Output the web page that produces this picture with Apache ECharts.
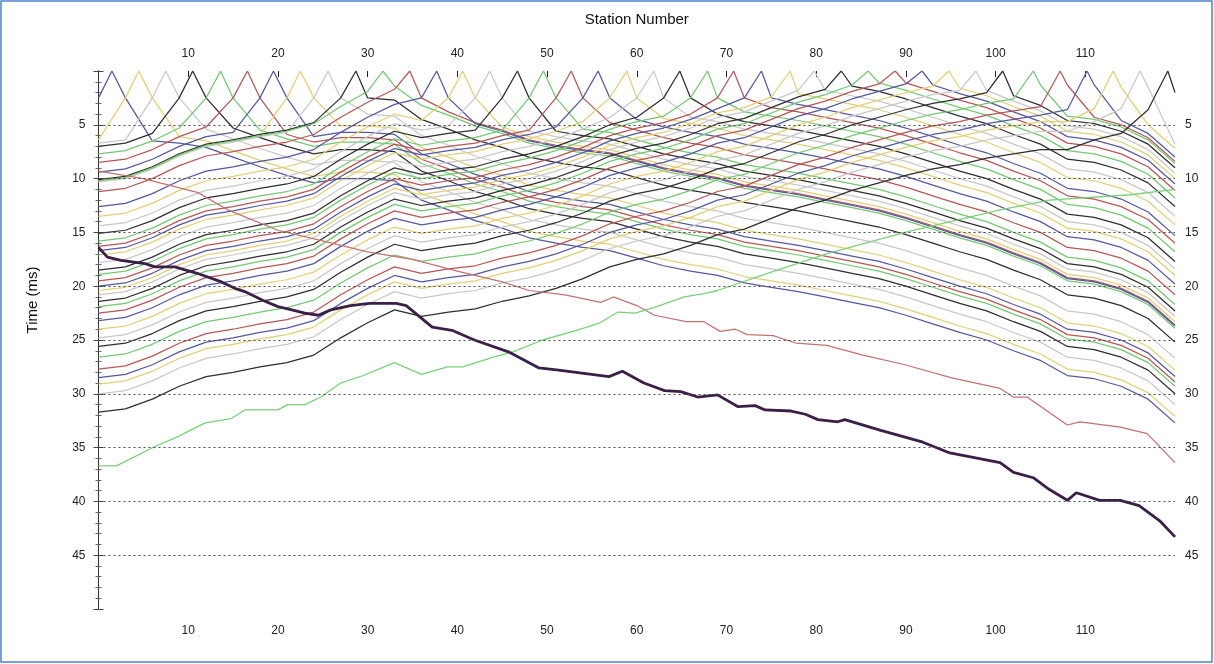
<!DOCTYPE html>
<html><head><meta charset="utf-8">
<script src="https://cdn.jsdelivr.net/npm/echarts/dist/echarts.min.js"></script>
<style>html,body{margin:0;padding:0;background:#fff}#c{width:1214px;height:664px}</style>
</head><body><div id="c"></div>
<script>
// receiver stations (x grid shared by all shot curves)
const stations = [0,3,6,9,12,15,18,21,24,27,30,33,36,39,42,45,48,51,54,57,60,63,66,69,72,75,78,81,84,87,90,93,96,99,102,105,108,111,114,117,120];
// shot positions (time 0 at shot)
const shotStations = [1.5,4.5,7.5,10.5,13.6,16.6,19.5,22.5,25.6,28.7,31.7,34.7,37.7,40.6,43.6,46.7,49.6,52.7,55.7,58.9,61.9,64.8,67.9,70.8,73.9,77.1,79.8,82.8,85.8,88.8,91.8,94.8,97.8,100.8,104.2,107.2,110.2,113.1,116.1,119.2];
const shotColors = ['#55589e','#e3cf78','#c8c8c8','#2e2e2e','#74c874','#b65656'];
// first-break times (ms) per shot, read at each station above
const t00 = [2.5,2.5,6.5,6.7,7.1,8.0,8.9,9.7,10.4,10.0,10.0,10.2,12.0,12.9,13.9,14.6,15.5,16.0,16.4,16.7,17.4,18.1,18.6,19.0,19.7,20.1,20.5,21.0,21.5,22.0,22.7,23.5,24.3,25.0,26.0,26.9,28.3,28.6,29.3,30.5,32.7];
const t01 = [6.4,2.5,2.5,6.1,6.5,7.4,8.3,9.1,9.8,9.4,9.4,9.6,11.4,12.3,13.3,14.0,14.9,15.4,15.8,16.1,16.8,17.5,18.0,18.4,19.1,19.5,19.9,20.4,20.9,21.4,22.1,22.9,23.7,24.4,25.4,26.3,27.7,28.0,28.7,29.9,32.1];
const t02 = [6.7,6.4,2.5,2.5,5.4,6.3,7.2,8.0,8.7,8.3,8.3,8.5,10.3,11.2,12.2,12.9,13.8,14.3,14.7,15.0,15.7,16.4,16.9,17.3,18.0,18.4,18.8,19.3,19.8,20.3,21.0,21.8,22.6,23.3,24.3,25.2,26.6,26.9,27.6,28.8,31.0];
const t03 = [7.0,6.7,5.8,2.5,2.5,5.3,6.2,7.0,7.7,7.3,7.3,7.5,9.3,10.2,11.2,11.9,12.8,13.3,13.7,14.0,14.7,15.4,15.9,16.3,17.0,17.4,17.8,18.3,18.8,19.3,20.0,20.8,21.6,22.3,23.3,24.2,25.6,25.9,26.6,27.8,30.0];
const t04 = [7.7,7.4,6.5,5.3,2.5,2.5,5.5,6.3,7.0,6.6,6.6,6.8,8.6,9.5,10.5,11.2,12.1,12.6,13.0,13.3,14.0,14.7,15.2,15.6,16.3,16.7,17.1,17.6,18.1,18.6,19.3,20.1,20.9,21.6,22.6,23.5,24.9,25.2,25.9,27.1,29.3];
const t05 = [8.5,8.2,7.3,6.1,5.2,2.5,2.5,5.9,6.6,6.2,6.2,6.4,8.2,9.1,10.1,10.8,11.7,12.2,12.6,12.9,13.6,14.3,14.8,15.2,15.9,16.3,16.7,17.2,17.7,18.2,18.9,19.7,20.5,21.2,22.2,23.1,24.5,24.8,25.5,26.7,28.9];
const t06 = [9.4,9.1,8.2,7.0,6.1,5.7,2.5,2.5,6.1,5.7,5.7,5.9,7.7,8.6,9.6,10.3,11.2,11.7,12.1,12.4,13.1,13.8,14.3,14.7,15.4,15.8,16.2,16.7,17.2,17.7,18.4,19.2,20.0,20.7,21.7,22.6,24.0,24.3,25.0,26.2,28.4];
const t07 = [10.2,9.9,9.0,7.8,6.9,6.5,6.0,2.5,2.5,5.1,5.1,5.3,7.1,8.0,9.0,9.7,10.6,11.1,11.5,11.8,12.5,13.2,13.7,14.1,14.8,15.2,15.6,16.1,16.6,17.1,17.8,18.6,19.4,20.1,21.1,22.0,23.4,23.7,24.4,25.6,27.8];
const t08 = [10.3,10.0,9.1,7.9,7.0,6.6,6.1,5.7,2.5,2.5,4.0,4.2,6.0,6.9,7.9,8.6,9.5,10.0,10.4,10.7,11.4,12.1,12.6,13.0,13.7,14.1,14.5,15.0,15.5,16.0,16.7,17.5,18.3,19.0,20.0,20.9,22.3,22.6,23.3,24.5,26.7];
const t09 = [10.1,9.8,8.9,7.7,6.8,6.4,5.9,5.5,4.8,2.5,2.5,2.7,4.5,5.4,6.4,7.1,8.0,8.5,8.9,9.2,9.9,10.6,11.1,11.5,12.2,12.6,13.0,13.5,14.0,14.5,15.2,16.0,16.8,17.5,18.5,19.4,20.8,21.1,21.8,23.0,25.2];
const t10 = [10.2,9.9,9.0,7.8,6.9,6.5,6.0,5.6,4.9,3.3,1.9,1.4,3.2,4.1,5.1,5.8,6.7,7.2,7.6,7.9,8.6,9.3,9.8,10.2,10.9,11.3,11.7,12.2,12.7,13.2,13.9,14.7,15.5,16.2,17.2,18.1,19.5,19.8,20.5,21.7,23.9];
const t11 = [11.2,10.9,10.0,8.8,7.9,7.5,7.0,6.6,5.9,4.3,2.9,1.7,2.5,3.8,4.8,5.5,6.4,6.9,7.3,7.6,8.3,9.0,9.5,9.9,10.6,11.0,11.4,11.9,12.4,12.9,13.6,14.4,15.2,15.9,16.9,17.8,19.2,19.5,20.2,21.4,23.6];
const t12 = [12.6,12.3,11.4,10.2,9.3,8.9,8.4,8.0,7.3,5.7,4.3,3.1,2.5,2.5,4.9,5.6,6.5,7.0,7.4,7.7,8.4,9.1,9.6,10.0,10.7,11.1,11.5,12.0,12.5,13.0,13.7,14.5,15.3,16.0,17.0,17.9,19.3,19.6,20.3,21.5,23.7];
const t13 = [13.5,13.2,12.3,11.1,10.2,9.8,9.3,8.9,8.2,6.6,5.2,4.0,4.6,2.5,2.5,5.2,6.1,6.6,7.0,7.3,8.0,8.7,9.2,9.6,10.3,10.7,11.1,11.6,12.1,12.6,13.3,14.1,14.9,15.6,16.6,17.5,18.9,19.2,19.9,21.1,23.3];
const t14 = [14.4,14.1,13.2,12.0,11.1,10.7,10.2,9.8,9.1,7.5,6.1,4.9,5.5,5.1,2.5,2.5,5.6,6.1,6.5,6.8,7.5,8.2,8.7,9.1,9.8,10.2,10.6,11.1,11.6,12.1,12.8,13.6,14.4,15.1,16.1,17.0,18.4,18.7,19.4,20.6,22.8];
const t15 = [15.1,14.8,13.9,12.7,11.8,11.4,10.9,10.5,9.8,8.2,6.8,5.6,6.2,5.8,5.5,2.5,2.5,5.6,6.0,6.3,7.0,7.7,8.2,8.6,9.3,9.7,10.1,10.6,11.1,11.6,12.3,13.1,13.9,14.6,15.6,16.5,17.9,18.2,18.9,20.1,22.3];
const t16 = [15.8,15.5,14.6,13.4,12.5,12.1,11.6,11.2,10.5,8.9,7.5,6.3,6.9,6.5,6.2,5.5,2.5,2.5,5.4,5.7,6.4,7.1,7.6,8.0,8.7,9.1,9.5,10.0,10.5,11.0,11.7,12.5,13.3,14.0,15.0,15.9,17.3,17.6,18.3,19.5,21.7];
const t17 = [16.3,16.0,15.1,13.9,13.0,12.6,12.1,11.7,11.0,9.4,8.0,6.8,7.4,7.0,6.7,6.0,5.5,2.5,2.5,4.8,5.5,6.2,6.7,7.1,7.8,8.2,8.6,9.1,9.6,10.1,10.8,11.6,12.4,13.1,14.1,15.0,16.4,16.7,17.4,18.6,20.8];
const t18 = [16.7,16.4,15.5,14.3,13.4,13.0,12.5,12.1,11.4,9.8,8.4,7.2,7.8,7.4,7.1,6.4,5.9,5.2,2.5,2.5,4.5,5.2,5.7,6.1,6.8,7.2,7.6,8.1,8.6,9.1,9.8,10.6,11.4,12.1,13.1,14.0,15.4,15.7,16.4,17.6,19.8];
const t19 = [17.1,16.8,15.9,14.7,13.8,13.4,12.9,12.5,11.8,10.2,8.8,7.6,8.2,7.8,7.5,6.8,6.3,5.6,4.7,2.5,2.5,4.4,4.9,5.3,6.0,6.4,6.8,7.3,7.8,8.3,9.0,9.8,10.6,11.3,12.3,13.2,14.6,14.9,15.6,16.8,19.0];
const t20 = [17.8,17.5,16.6,15.4,14.5,14.1,13.6,13.2,12.5,10.9,9.5,8.3,8.9,8.5,8.2,7.5,7.0,6.3,5.4,4.3,2.5,2.5,4.3,4.7,5.4,5.8,6.2,6.7,7.2,7.7,8.4,9.2,10.0,10.7,11.7,12.6,14.0,14.3,15.0,16.2,18.4];
const t21 = [18.5,18.2,17.3,16.1,15.2,14.8,14.3,13.9,13.2,11.6,10.2,9.0,9.6,9.2,8.9,8.2,7.7,7.0,6.1,5.0,4.3,2.5,2.5,4.0,4.7,5.1,5.5,6.0,6.5,7.0,7.7,8.5,9.3,10.0,11.0,11.9,13.3,13.6,14.3,15.5,17.7];
const t22 = [18.9,18.6,17.7,16.5,15.6,15.2,14.7,14.3,13.6,12.0,10.6,9.4,10.0,9.6,9.3,8.6,8.1,7.4,6.5,5.4,4.7,4.2,2.5,2.5,3.8,4.2,4.6,5.1,5.6,6.1,6.8,7.6,8.4,9.1,10.1,11.0,12.4,12.7,13.4,14.6,16.8];
const t23 = [19.5,19.2,18.3,17.1,16.2,15.8,15.3,14.9,14.2,12.6,11.2,10.0,10.6,10.2,9.9,9.2,8.7,8.0,7.1,6.0,5.3,4.8,4.0,2.5,2.5,3.4,3.8,4.3,4.8,5.3,6.0,6.8,7.6,8.3,9.3,10.2,11.6,11.9,12.6,13.8,16.0];
const t24 = [20.0,19.7,18.8,17.6,16.7,16.3,15.8,15.4,14.7,13.1,11.7,10.5,11.1,10.7,10.4,9.7,9.2,8.5,7.6,6.5,5.8,5.3,4.5,3.5,2.5,2.5,3.1,3.6,4.1,4.6,5.3,6.1,6.9,7.6,8.6,9.5,10.9,11.2,11.9,13.1,15.3];
const t25 = [20.4,20.1,19.2,18.0,17.1,16.7,16.2,15.8,15.1,13.5,12.1,10.9,11.5,11.1,10.8,10.1,9.6,8.9,8.0,6.9,6.2,5.7,4.9,3.9,3.4,2.4,2.1,2.6,3.1,3.6,4.3,5.1,5.9,6.6,7.6,8.5,9.9,10.2,10.9,12.1,14.3];
const t26 = [20.8,20.5,19.6,18.4,17.5,17.1,16.6,16.2,15.5,13.9,12.5,11.3,11.9,11.5,11.2,10.5,10.0,9.3,8.4,7.3,6.6,6.1,5.3,4.3,3.8,2.8,1.8,1.8,2.3,2.8,3.5,4.3,5.1,5.8,6.8,7.7,9.1,9.4,10.1,11.3,13.5];
const t27 = [21.4,21.1,20.2,19.0,18.1,17.7,17.2,16.8,16.1,14.5,13.1,11.9,12.5,12.1,11.8,11.1,10.6,9.9,9.0,7.9,7.2,6.7,5.9,4.9,4.4,3.4,2.4,1.7,1.4,1.9,2.6,3.4,4.2,4.9,5.9,6.8,8.2,8.5,9.2,10.4,12.6];
const t28 = [21.9,21.6,20.7,19.5,18.6,18.2,17.7,17.3,16.6,15.0,13.6,12.4,13.0,12.6,12.3,11.6,11.1,10.4,9.5,8.4,7.7,7.2,6.4,5.4,4.9,3.9,2.9,2.2,1.3,1.1,1.8,2.6,3.4,4.1,5.1,6.0,7.4,7.7,8.4,9.6,11.8];
const t29 = [22.5,22.2,21.3,20.1,19.2,18.8,18.3,17.9,17.2,15.6,14.2,13.0,13.6,13.2,12.9,12.2,11.7,11.0,10.1,9.0,8.3,7.8,7.0,6.0,5.5,4.5,3.5,2.8,1.9,1.2,1.1,1.9,2.7,3.4,4.4,5.3,6.7,7.0,7.7,8.9,11.1];
const t30 = [23.2,22.9,22.0,20.8,19.9,19.5,19.0,18.6,17.9,16.3,14.9,13.7,14.3,13.9,13.6,12.9,12.4,11.7,10.8,9.7,9.0,8.5,7.7,6.7,6.2,5.2,4.2,3.5,2.6,1.9,1.2,1.3,2.1,2.8,3.8,4.7,6.1,6.4,7.1,8.3,10.5];
const t31 = [24.0,23.7,22.8,21.6,20.7,20.3,19.8,19.4,18.7,17.1,15.7,14.5,15.1,14.7,14.4,13.7,13.2,12.5,11.6,10.5,9.8,9.3,8.5,7.5,7.0,6.0,5.0,4.3,3.4,2.7,2.0,1.4,1.6,2.3,3.3,4.2,5.6,5.9,6.6,7.8,10.0];
const t32 = [24.8,24.5,23.6,22.4,21.5,21.1,20.6,20.2,19.5,17.9,16.5,15.3,15.9,15.5,15.2,14.5,14.0,13.3,12.4,11.3,10.6,10.1,9.3,8.3,7.8,6.8,5.8,5.1,4.2,3.5,2.8,2.2,1.8,1.8,2.8,3.7,5.1,5.4,6.1,7.3,9.5];
const t33 = [25.6,25.3,24.4,23.2,22.3,21.9,21.4,21.0,20.3,18.7,17.3,16.1,16.7,16.3,16.0,15.3,14.8,14.1,13.2,12.1,11.4,10.9,10.1,9.1,8.6,7.6,6.6,5.9,5.0,4.3,3.6,3.0,2.6,2.0,2.3,3.2,4.6,4.9,5.6,6.8,9.0];
const t34 = [26.6,26.3,25.4,24.2,23.3,22.9,22.4,22.0,21.3,19.7,18.3,17.1,17.7,17.3,17.0,16.3,15.8,15.1,14.2,13.1,12.4,11.9,11.1,10.1,9.6,8.6,7.6,6.9,6.0,5.3,4.6,4.0,3.6,3.0,2.6,1.3,4.2,4.5,5.2,6.4,8.6];
const t35 = [27.7,27.4,26.5,25.3,24.4,24.0,23.5,23.1,22.4,20.8,19.4,18.2,18.8,18.4,18.1,17.4,16.9,16.2,15.3,14.2,13.5,13.0,12.2,11.2,10.7,9.7,8.7,8.0,7.1,6.4,5.7,5.1,4.7,4.1,3.7,3.3,1.3,4.3,5.0,6.2,8.4];
const t36 = [28.5,28.2,27.3,26.1,25.2,24.8,24.3,23.9,23.2,21.6,20.2,19.0,19.6,19.2,18.9,18.2,17.7,17.0,16.1,15.0,14.3,13.8,13.0,12.0,11.5,10.5,9.5,8.8,7.9,7.2,6.5,5.9,5.5,4.9,4.5,4.1,3.6,1.3,4.6,5.8,8.0];
const t37 = [29.1,28.8,27.9,26.7,25.8,25.4,24.9,24.5,23.8,22.2,20.8,19.6,20.2,19.8,19.5,18.8,18.3,17.6,16.7,15.6,14.9,14.4,13.6,12.6,12.1,11.1,10.1,9.4,8.5,7.8,7.1,6.5,6.1,5.5,5.1,4.7,4.7,3.5,1.5,5.0,7.2];
const t38 = [30.0,29.7,28.8,27.6,26.7,26.3,25.8,25.4,24.7,23.1,21.7,20.5,21.1,20.7,20.4,19.7,19.2,18.5,17.6,16.5,15.8,15.3,14.5,13.5,13.0,12.0,11.0,10.3,9.4,8.7,8.0,7.4,7.0,6.4,6.0,5.6,5.6,4.7,3.5,1.5,6.8];
const t39 = [31.7,31.4,30.5,29.3,28.4,28.0,27.5,27.1,26.4,24.8,23.4,22.2,22.8,22.4,22.1,21.4,20.9,20.2,19.3,18.2,17.5,17.0,16.2,15.2,14.7,13.7,12.7,12.0,11.1,10.4,9.7,9.1,8.7,8.1,7.7,7.3,7.3,6.4,5.8,3.6,2.0];
const shotTimes = [t00,t01,t02,t03,t04,t05,t06,t07,t08,t09,t10,t11,t12,t13,t14,t15,t16,t17,t18,t19,t20,t21,t22,t23,t24,t25,t26,t27,t28,t29,t30,t31,t32,t33,t34,t35,t36,t37,t38,t39];

// off-end shots
const offLeftFarX = [0,1,2.5,5.2,6.3,8.5,11,13.7,15.2,16.3,18.3,20,21.1,23,24.5,25.9,28.1,30.2,33.2,34.3,37.2,39.4,41.9,45.7,49.1,51.3,56.9,58.4,60.8,63.1,64.9,66.8,69,71.3,73.2,74.3,77.2,78.8,80.2,82.4,83.2,87.2,91.9,94.9,100.5,102,104.2,106,108,109,111.6,113.9,116,118.3,120];
const offLeftFarT = [16.4,17.3,17.6,17.9,18.2,18.2,18.8,19.6,20.2,20.5,21.3,21.9,22.1,22.5,22.7,22.2,21.8,21.6,21.6,21.8,23.8,24.1,25.0,26.1,27.6,27.8,28.4,27.9,29.0,29.7,29.8,30.3,30.1,31.2,31.1,31.5,31.6,31.9,32.4,32.6,32.4,33.4,34.5,35.5,36.4,37.3,37.8,38.9,39.9,39.2,39.9,39.9,40.4,41.8,43.3];
const offLeftNearX = [0,5,11.1,14.4,20,24.5,30,35,40,45,48,52,56,57.4,60,62,65.5,67.5,69.3,71,72.3,75.2,77.8,81.2,85.2,89.9,95,100.5,102,103.5,108,109.4,113.9,116.9,120];
const offLeftNearT = [9.3,10.0,11.3,12.9,14.8,15.7,16.8,17.5,18.6,19.6,20.4,20.8,21.5,21.0,21.8,22.7,23.3,23.3,24.2,24.0,24.5,24.6,25.3,25.5,26.4,27.3,28.5,29.5,30.3,30.3,32.9,32.6,33.1,33.7,36.4];
const offRightX = [0,2,6.3,8.8,11.9,14.8,16.3,20,21.1,23,24.8,27,29.5,33,36,38.9,40.6,44,46.2,49.5,53.3,55.9,57.9,59.8,61.9,65.3,67.5,69,75,81.5,89.9,100.5,106,115,120];
const offRightT = [36.7,36.7,34.9,34.0,32.7,32.3,31.5,31.5,31.0,31.0,30.3,29.0,28.3,27.1,28.2,27.5,27.5,26.6,26.1,25.0,24.1,23.4,22.4,22.5,22.0,21.0,20.7,20.4,18.7,16.9,15.0,12.9,12.0,11.5,11.0];

const gridTimes = [5,10,15,20,25,30,35,40,45];
const xTickLabels = ['10','20','30','40','50','60','70','80','90','100','110'];

const FONT = 'Arial, "Liberation Sans", sans-serif';
const chart = echarts.init(document.getElementById('c'), null, {renderer: 'canvas'});

const series = [];
series.push({
  type: 'line', data: [], silent: true, z: 1,
  markLine: {
    silent: true, symbol: ['none', 'none'], animation: false,
    label: {show: false},
    lineStyle: {type: [2, 3], color: '#4a4a4a', width: 1.2},
    data: gridTimes.map(v => ({yAxis: v}))
  }
});
shotTimes.forEach((row, k) => {
  const s = shotStations[k];
  const data = [];
  for (let i = 0; i < stations.length; i++) {
    if (i > 0 && stations[i - 1] < s && stations[i] > s) data.push([s, 0]);
    data.push([stations[i], row[i]]);
  }
  series.push({
    type: 'line', data, symbol: 'none', silent: true, z: 2,
    lineStyle: {color: shotColors[k % 6], width: 1.25}
  });
});
function pairs(xs, ts) { return xs.map((x, i) => [x, ts[i]]); }
series.push({type: 'line', data: pairs(offLeftNearX, offLeftNearT), symbol: 'none', silent: true, z: 3,
  lineStyle: {color: '#c27272', width: 1.25}});
series.push({type: 'line', data: pairs(offRightX, offRightT), symbol: 'none', silent: true, z: 3,
  lineStyle: {color: '#7ccf7c', width: 1.3}});
series.push({type: 'line', data: pairs(offLeftFarX, offLeftFarT), symbol: 'none', silent: true, z: 4,
  lineStyle: {color: '#3a1f46', width: 2.8}});

function xLabelFmt(v) {
  const idx = Math.round(v / 10) - 1;
  return (idx >= 0 && idx < xTickLabels.length && Math.abs(v - (idx + 1) * 10) < 1e-6) ? xTickLabels[idx] : '';
}
const yLabelFmt = v => (gridTimes.indexOf(v) >= 0 ? String(v) : '');

chart.setOption({
  animation: false,
  backgroundColor: '#fff',
  grid: {left: 98.5, right: 39, top: 71, bottom: 55, containLabel: false},
  xAxis: [
    {type: 'value', position: 'bottom', min: 0, max: 120, interval: 10,
     axisLine: {show: false}, axisTick: {show: false}, splitLine: {show: false},
     axisLabel: {formatter: xLabelFmt, showMinLabel: false, showMaxLabel: false, hideOverlap: false,
                 color: '#222', fontSize: 12, fontFamily: FONT, margin: 16}},
    {type: 'value', position: 'top', min: 0, max: 120, interval: 10,
     axisLine: {show: false}, splitLine: {show: false},
     axisTick: {show: true, inside: true, length: 6, lineStyle: {color: '#222'}},
     axisLabel: {formatter: xLabelFmt, showMinLabel: false, showMaxLabel: false, hideOverlap: false,
                 color: '#222', fontSize: 12, fontFamily: FONT, margin: 11},
     name: 'Station Number', nameLocation: 'middle', nameGap: 44,
     nameTextStyle: {color: '#111', fontSize: 15, fontFamily: FONT}}
  ],
  yAxis: [
    {type: 'value', position: 'left', inverse: true, min: 0, max: 50, interval: 5, offset: 3,
     axisLine: {show: true, lineStyle: {color: '#333', width: 1}},
     axisTick: {show: true, length: 5, lineStyle: {color: '#444'}},
     minorTick: {show: true, splitNumber: 5, length: 3, lineStyle: {color: '#666'}},
     splitLine: {show: false},
     axisLabel: {formatter: yLabelFmt, color: '#222', fontSize: 12, fontFamily: FONT, margin: 10}},
    {type: 'value', position: 'right', inverse: true, min: 0, max: 50, interval: 5, offset: 3,
     axisLine: {show: true, lineStyle: {color: '#333', width: 1}},
     axisTick: {show: true, length: 5, lineStyle: {color: '#444'}},
     minorTick: {show: true, splitNumber: 5, length: 3, lineStyle: {color: '#666'}},
     splitLine: {show: false},
     axisLabel: {formatter: yLabelFmt, color: '#222', fontSize: 12, fontFamily: FONT, margin: 7}}
  ],
  graphic: [
    {type: 'rect', silent: true, shape: {x: 1, y: 1, width: 1211, height: 661},
     style: {fill: 'none', stroke: '#4f81c7', lineWidth: 1.5}},
    {type: 'text', silent: true, x: 33, y: 300, rotation: Math.PI / 2,
     style: {text: 'Time (ms)', fill: '#111', font: '15px ' + FONT, textAlign: 'center', textVerticalAlign: 'middle'}}
  ],
  series
});
</script>
</body></html>
